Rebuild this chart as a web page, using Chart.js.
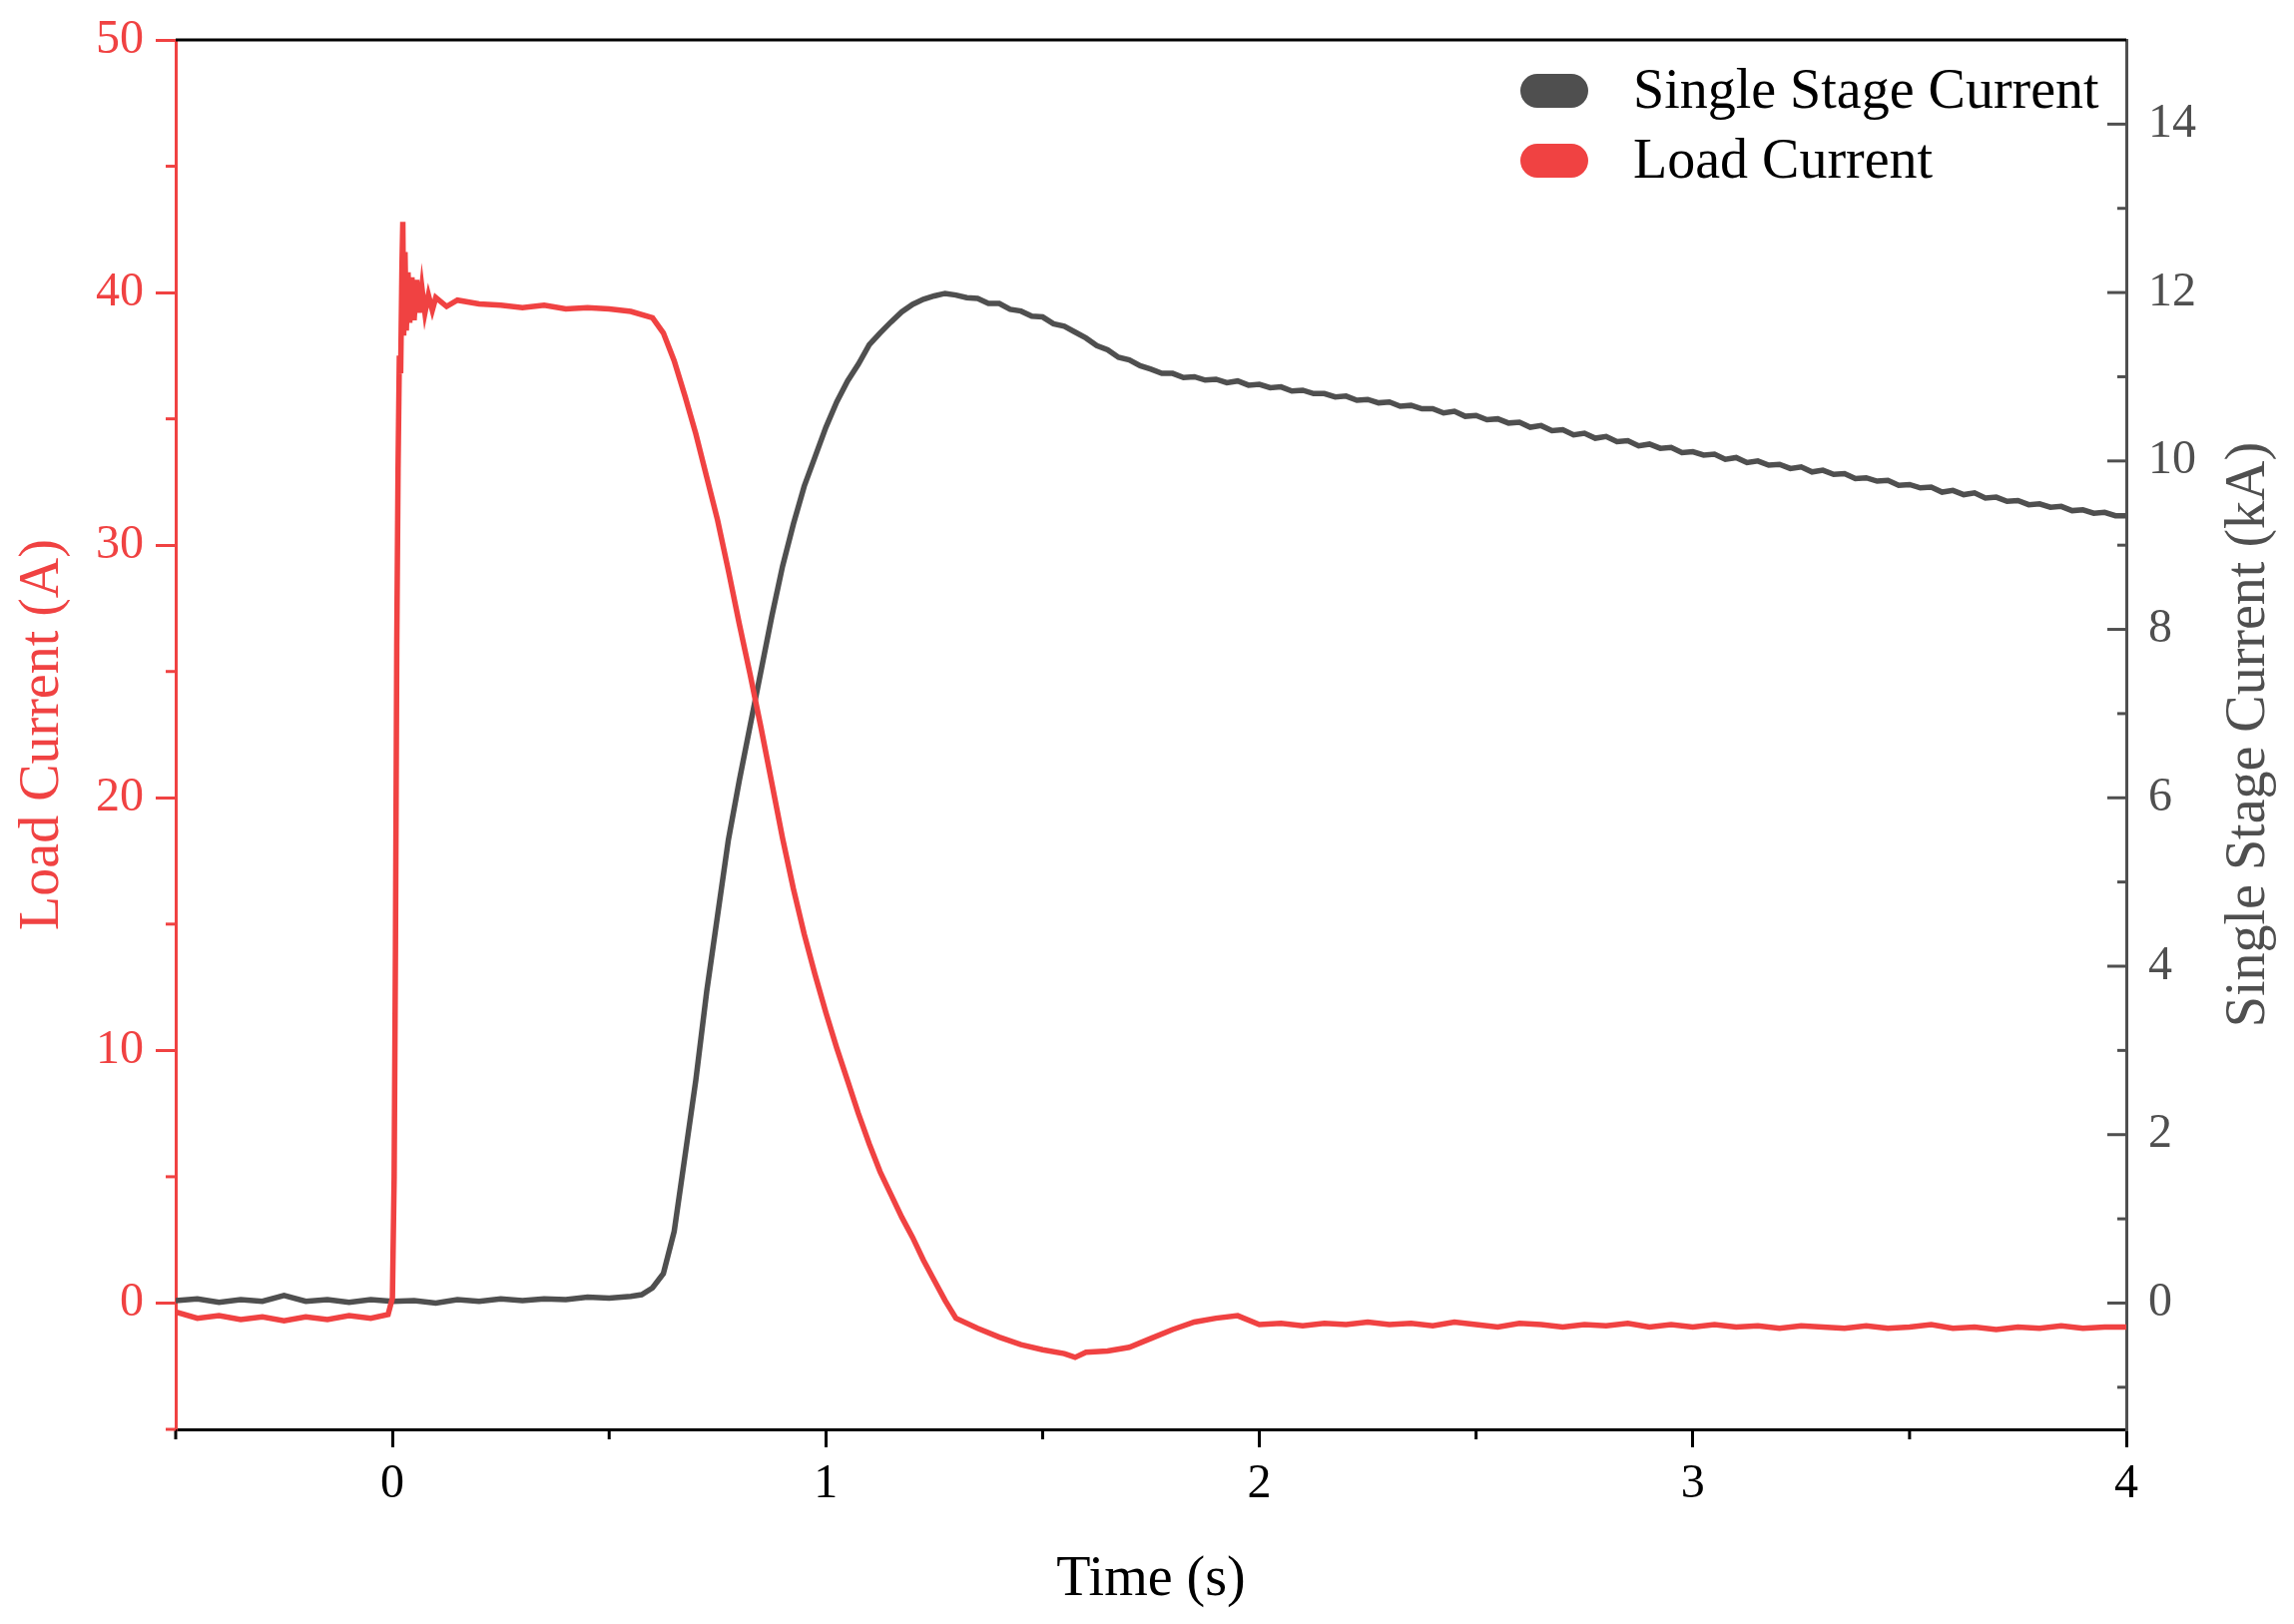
<!DOCTYPE html>
<html>
<head>
<meta charset="utf-8">
<script src="https://cdn.jsdelivr.net/npm/chart.js@4/dist/chart.umd.min.js"></script>
<style>
  html, body { margin: 0; padding: 0; background: #fff; }
  canvas { display: block; }
</style>
</head>
<body>
<canvas id="currentChart" width="2298" height="1627"></canvas>
<script>
// time (s) and load current (A)
const loadTime = [-0.5, -0.45, -0.4, -0.35, -0.3, -0.25, -0.2, -0.15, -0.1, -0.05, -0.01,
  0.0, 0.004, 0.007, 0.01, 0.013, 0.016, 0.019, 0.022, 0.024, 0.026, 0.029, 0.032, 0.036, 0.04,
  0.045, 0.05, 0.056, 0.062, 0.068, 0.075, 0.083, 0.092, 0.1, 0.125, 0.15, 0.2, 0.25, 0.3, 0.35,
  0.4, 0.45, 0.5, 0.55, 0.6, 0.625, 0.65, 0.675, 0.7, 0.725, 0.75, 0.775, 0.8, 0.825, 0.85, 0.875,
  0.9, 0.925, 0.95, 0.975, 1.0, 1.025, 1.05, 1.075, 1.1, 1.125, 1.15, 1.175, 1.2, 1.225, 1.25,
  1.275, 1.3, 1.35, 1.4, 1.45, 1.5, 1.55, 1.575, 1.6, 1.65, 1.7, 1.75, 1.8, 1.85, 1.9, 1.95, 2.0,
  2.05, 2.1, 2.15, 2.2, 2.25, 2.3, 2.35, 2.4, 2.45, 2.5, 2.55, 2.6, 2.65, 2.7, 2.75, 2.8, 2.85,
  2.9, 2.95, 3.0, 3.05, 3.1, 3.15, 3.2, 3.25, 3.3, 3.35, 3.4, 3.45, 3.5, 3.55, 3.6, 3.65, 3.7,
  3.75, 3.8, 3.85, 3.9, 3.95, 4.0];
const loadCurrent = [-0.35, -0.6, -0.5, -0.65, -0.55, -0.7, -0.55, -0.65, -0.5, -0.6, -0.45,
  0.2, 5, 14, 26, 33, 37.5, 36.8, 41, 42.8, 38.3, 41.6, 38.5, 40.8, 38.8,
  40.6, 38.9, 40.5, 39.2, 40.2, 39.2, 39.9, 39.3, 39.8, 39.45, 39.7, 39.55, 39.5, 39.4, 39.5,
  39.35, 39.4, 39.35, 39.25, 39.0, 38.4, 37.3, 35.9, 34.4, 32.7, 31.0, 29.0, 26.9, 24.9, 22.8, 20.6,
  18.4, 16.4, 14.6, 13.0, 11.5, 10.1, 8.8, 7.5, 6.3, 5.2, 4.3, 3.4, 2.6, 1.7, 0.9,
  0.1, -0.6, -1.0, -1.35, -1.65, -1.85, -2.0, -2.15, -1.95, -1.9, -1.75, -1.4, -1.05, -0.75, -0.6, -0.5, -0.85,
  -0.8, -0.9, -0.8, -0.85, -0.75, -0.85, -0.8, -0.9, -0.75, -0.85, -0.95, -0.8, -0.85, -0.95, -0.85, -0.9, -0.8,
  -0.95, -0.85, -0.95, -0.85, -0.95, -0.9, -1.0, -0.9, -0.95, -1.0, -0.9, -1.0, -0.95, -0.85, -1.0, -0.95, -1.05,
  -0.95, -1.0, -0.9, -1.0, -0.95, -0.95];

// time (s) and single stage current (kA)
const stageTime = [-0.5, -0.45, -0.4, -0.35, -0.3, -0.25, -0.2, -0.15, -0.1, -0.05, 0,
  0.05, 0.1, 0.15, 0.2, 0.25, 0.3, 0.35, 0.4, 0.45, 0.5, 0.55, 0.575, 0.6, 0.625, 0.65, 0.675,
  0.7, 0.725, 0.75, 0.775, 0.8, 0.825, 0.85, 0.875, 0.9, 0.925, 0.95, 0.975, 1.0, 1.025, 1.05,
  1.075, 1.1, 1.125, 1.15, 1.175, 1.2, 1.225, 1.25, 1.275, 1.3, 1.325, 1.35, 1.375, 1.4, 1.425,
  1.45, 1.475, 1.5, 1.525, 1.55, 1.575, 1.6, 1.625, 1.65, 1.675, 1.7, 1.725, 1.75, 1.775, 1.8,
  1.825, 1.85, 1.875, 1.9, 1.925, 1.95, 1.975, 2.0, 2.025, 2.05, 2.075, 2.1, 2.125, 2.15, 2.175,
  2.2, 2.225, 2.25, 2.275, 2.3, 2.325, 2.35, 2.375, 2.4, 2.425, 2.45, 2.475, 2.5, 2.525, 2.55,
  2.575, 2.6, 2.625, 2.65, 2.675, 2.7, 2.725, 2.75, 2.775, 2.8, 2.825, 2.85, 2.875, 2.9, 2.925,
  2.95, 2.975, 3.0, 3.025, 3.05, 3.075, 3.1, 3.125, 3.15, 3.175, 3.2, 3.225, 3.25, 3.275, 3.3,
  3.325, 3.35, 3.375, 3.4, 3.425, 3.45, 3.475, 3.5, 3.525, 3.55, 3.575, 3.6, 3.625, 3.65, 3.675,
  3.7, 3.725, 3.75, 3.775, 3.8, 3.825, 3.85, 3.875, 3.9, 3.925, 3.95, 3.975, 4.0];
const stageCurrent = [0.03, 0.05, 0.01, 0.04, 0.02, 0.09, 0.02, 0.04, 0.01, 0.04, 0.02,
  0.03, 0.0, 0.04, 0.02, 0.05, 0.03, 0.05, 0.04, 0.07, 0.06, 0.08, 0.1, 0.18, 0.35, 0.85, 1.75,
  2.65, 3.7, 4.6, 5.5, 6.2, 6.85, 7.5, 8.15, 8.75, 9.25, 9.7, 10.05, 10.4, 10.7, 10.95,
  11.15, 11.38, 11.52, 11.65, 11.77, 11.86, 11.92, 11.96, 11.99, 11.97, 11.94, 11.93, 11.87, 11.87, 11.8,
  11.78, 11.72, 11.71, 11.63, 11.6, 11.53, 11.46, 11.37, 11.32, 11.23, 11.2, 11.13, 11.09, 11.04, 11.04,
  10.99, 11.0, 10.96, 10.97, 10.93, 10.95, 10.9, 10.91, 10.87, 10.88, 10.83, 10.84, 10.8, 10.8, 10.76,
  10.77, 10.72, 10.73, 10.69, 10.7, 10.65, 10.66, 10.62, 10.62, 10.57, 10.59, 10.53, 10.54, 10.49, 10.5,
  10.45, 10.46, 10.4, 10.42, 10.36, 10.37, 10.31, 10.33, 10.27, 10.29, 10.23, 10.24, 10.18, 10.2, 10.15,
  10.16, 10.1, 10.11, 10.07, 10.08, 10.02, 10.04, 9.98, 10.0, 9.95, 9.96, 9.91, 9.93, 9.87, 9.89,
  9.84, 9.85, 9.79, 9.8, 9.76, 9.77, 9.71, 9.72, 9.68, 9.69, 9.63, 9.65, 9.6, 9.62, 9.56,
  9.57, 9.52, 9.53, 9.48, 9.49, 9.45, 9.46, 9.41, 9.42, 9.38, 9.39, 9.35, 9.35];

// tick positions
const timeTicks = [0, 1, 2, 3, 4];
const timeMinor = [-0.5, 0.5, 1.5, 2.5, 3.5];
const loadTicks = [0, 10, 20, 30, 40, 50];
const loadMinor = [-5, 5, 15, 25, 35, 45];
const stageTicks = [0, 2, 4, 6, 8, 10, 12, 14];
const stageMinor = [-1, 1, 3, 5, 7, 9, 11, 13];

const RED = "#f04242";
const GRAY = "#4f4f4f";
const FONT = "'Liberation Serif', 'Times New Roman', serif";

function line(ctx, x1, y1, x2, y2) {
    ctx.beginPath();
    ctx.moveTo(x1, y1);
    ctx.lineTo(x2, y2);
    ctx.stroke();
}

// vertical axes: let layout padding decide the plot top/bottom
function fitVertical(width) {
    return s => {
        s.width = width;
        s.paddingTop = 0;
        s.paddingBottom = 0;
    };
}

// extra ticks, top frame, right title and legend
const decorations = {
    id: "decorations",
    afterDraw(chart) {
        const { ctx, chartArea: a, scales } = chart;
        ctx.save();
        ctx.lineCap = "butt";

        ctx.strokeStyle = "#000";
        ctx.lineWidth = 3;
        line(ctx, a.left, a.top, a.right, a.top);
        timeMinor.forEach(v => {
            const x = scales.x.getPixelForValue(v);
            line(ctx, x, a.bottom, x, a.bottom + 10);
        });

        ctx.strokeStyle = RED;
        loadMinor.forEach(v => {
            const y = scales.y.getPixelForValue(v);
            line(ctx, a.left - 10, y, a.left, y);
        });

        ctx.strokeStyle = GRAY;
        stageTicks.forEach(v => {
            const y = scales.y2.getPixelForValue(v);
            line(ctx, a.right - 19, y, a.right, y);
        });
        stageMinor.forEach(v => {
            const y = scales.y2.getPixelForValue(v);
            line(ctx, a.right - 9, y, a.right, y);
        });

        // right axis title, reading bottom to top
        ctx.fillStyle = GRAY;
        ctx.font = "56px " + FONT;
        ctx.textAlign = "center";
        ctx.textBaseline = "middle";
        ctx.translate(2253, (a.top + a.bottom) / 2);
        ctx.rotate(-Math.PI / 2);
        ctx.fillText("Single Stage Current (kA)", 0, 0);
        ctx.setTransform(1, 0, 0, 1, 0, 0);

        // legend
        const entries = [chart.data.datasets[1], chart.data.datasets[0]];
        ctx.textAlign = "left";
        entries.forEach((ds, i) => {
            const cy = 91 + i * 70;
            ctx.fillStyle = ds.borderColor;
            ctx.beginPath();
            ctx.roundRect(1523, cy - 17, 68, 34, 17);
            ctx.fill();
            ctx.fillStyle = "#000";
            ctx.fillText(ds.label, 1636, cy + 2);
        });
        ctx.restore();
    }
};

const ctx = document.getElementById("currentChart").getContext("2d");

new Chart(ctx, {
    type: "line",
    data: {
        datasets: [
            {
                label: "Load Current",
                data: loadTime.map((t, i) => ({ x: t, y: loadCurrent[i] })),
                borderColor: RED,
                backgroundColor: RED,
                borderWidth: 5.5,
                pointRadius: 0,
                tension: 0,
                yAxisID: "y"
            },
            {
                label: "Single Stage Current",
                data: stageTime.map((t, i) => ({ x: t, y: stageCurrent[i] })),
                borderColor: GRAY,
                backgroundColor: GRAY,
                borderWidth: 5.5,
                pointRadius: 0,
                tension: 0,
                yAxisID: "y2"
            }
        ]
    },
    options: {
        responsive: false,
        animation: false,
        layout: { padding: { top: 40, left: 0, right: 0, bottom: 0 } },
        plugins: {
            legend: { display: false },
            tooltip: { enabled: false }
        },
        scales: {
            x: {
                type: "linear",
                position: "bottom",
                min: -0.5,
                max: 4,
                afterBuildTicks: s => { s.ticks = timeTicks.map(v => ({ value: v })); },
                afterFit: s => { s.height = 195; s.paddingLeft = 0; s.paddingRight = 0; },
                grid: { drawOnChartArea: false, color: "#000", lineWidth: 3, tickLength: 18 },
                border: { color: "#000", width: 3 },
                ticks: { color: "#000", padding: 9, maxRotation: 0, font: { family: FONT, size: 48 } },
                title: {
                    display: true,
                    text: "Time (s)",
                    color: "#000",
                    padding: { top: 0, bottom: 10 },
                    font: { family: FONT, size: 56 }
                }
            },
            y: {
                type: "linear",
                position: "left",
                min: -5,
                max: 50,
                afterBuildTicks: s => { s.ticks = loadTicks.map(v => ({ value: v })); },
                afterFit: fitVertical(176),
                grid: { drawOnChartArea: false, color: RED, lineWidth: 3, tickLength: 20 },
                border: { color: RED, width: 3 },
                ticks: { color: RED, padding: 12, font: { family: FONT, size: 48 } },
                title: {
                    display: true,
                    text: "Load Current (A)",
                    color: RED,
                    padding: { top: 10, bottom: 0 },
                    font: { family: FONT, size: 56 }
                }
            },
            y2: {
                type: "linear",
                position: "right",
                min: -1.5,
                max: 15,
                afterBuildTicks: s => { s.ticks = stageTicks.map(v => ({ value: v })); },
                afterFit: fitVertical(168),
                grid: { drawOnChartArea: false, drawTicks: false, color: GRAY, lineWidth: 3 },
                border: { color: GRAY, width: 3 },
                ticks: { color: GRAY, padding: 22, font: { family: FONT, size: 48 } }
            }
        }
    },
    plugins: [decorations]
});
</script>
</body>
</html>
